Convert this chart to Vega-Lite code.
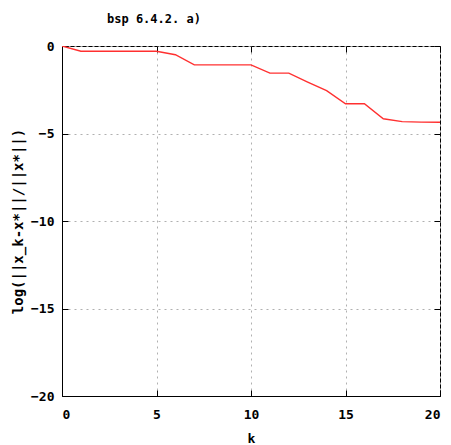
{
  "$schema": "https://vega.github.io/schema/vega-lite/v6.json",
  "width": 378,
  "height": 350,
  "autosize": "none",
  "padding": {"left": 62, "top": 46, "right": 11, "bottom": 49},
  "background": "white",
  "title": {
    "text": "bsp 6.4.2. a)",
    "anchor": "start",
    "frame": "group",
    "dx": 45,
    "offset": 14,
    "font": "DejaVu Sans Mono",
    "fontSize": 12,
    "fontWeight": "bold",
    "color": "#000"
  },
  "data": {
    "values": [
      {"k": 0, "v": 0},
      {"k": 1, "v": -0.3},
      {"k": 2, "v": -0.3},
      {"k": 3, "v": -0.3},
      {"k": 4, "v": -0.3},
      {"k": 5, "v": -0.3},
      {"k": 6, "v": -0.5},
      {"k": 7, "v": -1.08},
      {"k": 8, "v": -1.08},
      {"k": 9, "v": -1.08},
      {"k": 10, "v": -1.08},
      {"k": 11, "v": -1.55},
      {"k": 12, "v": -1.55},
      {"k": 13, "v": -2.06},
      {"k": 14, "v": -2.55},
      {"k": 15, "v": -3.3},
      {"k": 16, "v": -3.3},
      {"k": 17, "v": -4.16},
      {"k": 18, "v": -4.32},
      {"k": 19, "v": -4.35},
      {"k": 20, "v": -4.36}
    ]
  },
  "layer": [
    {
      "mark": {"type": "line", "color": "#ff3030", "strokeWidth": 1.4, "clip": true},
      "encoding": {
        "x": {
          "field": "k", "type": "quantitative",
          "scale": {"domain": [0, 20], "nice": false},
          "axis": {
            "values": [0, 5, 10, 15, 20],
            "title": "k",
            "grid": true,
            "tickSize": -6,
            "labelPadding": 18,
            "titlePadding": 11
          }
        },
        "y": {
          "field": "v", "type": "quantitative",
          "scale": {"domain": [-20, 0], "nice": false},
          "axis": {
            "values": [-20, -15, -10, -5, 0],
            "title": "log(||x_k-x*||/||x*||)",
            "titleFontSize": 14,
            "grid": true,
            "tickSize": -6,
            "labelPadding": 14,
            "titlePadding": 5
          }
        }
      }
    },
    {
      "mark": {"type": "line", "opacity": 0},
      "encoding": {
        "x": {
          "field": "k", "type": "quantitative",
          "axis": {"orient": "top", "values": [0, 5, 10, 15, 20], "labels": false, "title": null, "grid": false, "tickSize": -6, "domain": false}
        },
        "y": {
          "field": "v", "type": "quantitative",
          "axis": {"orient": "right", "values": [-20, -15, -10, -5, 0], "labels": false, "title": null, "grid": false, "tickSize": -6, "domain": false}
        }
      }
    }
  ],
  "resolve": {"axis": {"x": "independent", "y": "independent"}},
  "config": {
    "view": {"stroke": "#000", "strokeWidth": 1},
    "axis": {
      "domainColor": "#000",
      "tickColor": "#000",
      "gridColor": "#b0b0b0",
      "gridDash": [2, 4],
      "gridWidth": 1,
      "labelFont": "DejaVu Sans Mono",
      "labelFontWeight": "bold",
      "labelFontSize": 13,
      "labelColor": "#000",
      "titleFont": "DejaVu Sans Mono",
      "titleFontWeight": "bold",
      "titleFontSize": 13,
      "titleColor": "#000"
    }
  }
}
